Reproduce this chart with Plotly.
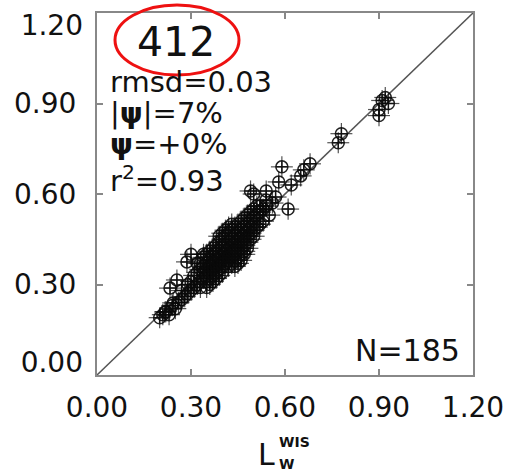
import plotly.graph_objects as go

# ---- data ----
x_vals = [
    0.20, 0.21, 0.22, 0.23, 0.24, 0.25, 0.26, 0.27, 0.27, 0.28, 0.29, 0.29, 0.30, 0.30, 0.31,
    0.217, 0.243, 0.255, 0.287, 0.30, 0.233,
    0.31, 0.32, 0.32, 0.33, 0.33, 0.33, 0.34, 0.34, 0.34, 0.34,
    0.35, 0.35, 0.35, 0.35, 0.35, 0.36, 0.36, 0.36, 0.36, 0.36,
    0.37, 0.37, 0.37, 0.37, 0.37, 0.37, 0.38, 0.38, 0.38, 0.38, 0.38, 0.38,
    0.39, 0.39, 0.39, 0.39, 0.39, 0.39, 0.40, 0.40, 0.40, 0.40, 0.40, 0.40, 0.40,
    0.41, 0.41, 0.41, 0.41, 0.41, 0.41, 0.42, 0.42, 0.42, 0.42, 0.42, 0.42,
    0.43, 0.43, 0.43, 0.43, 0.43, 0.43, 0.44, 0.44, 0.44, 0.44, 0.44, 0.44,
    0.45, 0.45, 0.45, 0.45, 0.45, 0.45, 0.46, 0.46, 0.46, 0.46, 0.46, 0.46,
    0.47, 0.47, 0.47, 0.47, 0.47, 0.47, 0.48, 0.48, 0.48, 0.48, 0.48, 0.48,
    0.49, 0.49, 0.49, 0.49, 0.49, 0.50, 0.50, 0.50, 0.50, 0.50,
    0.51, 0.51, 0.51, 0.52, 0.52, 0.53, 0.53,
    0.54, 0.55, 0.56, 0.57,
    0.36, 0.38, 0.44, 0.46, 0.39, 0.41, 0.43, 0.32, 0.34, 0.47, 0.45, 0.40, 0.35, 0.42,
    0.36, 0.38, 0.40, 0.42, 0.44, 0.45, 0.47, 0.37, 0.39, 0.43, 0.52, 0.54, 0.33,
    0.50, 0.49, 0.59, 0.58, 0.61, 0.65, 0.68, 0.66, 0.62, 0.78, 0.77,
    0.91, 0.93, 0.90, 0.90, 0.92, 0.54,
]
y_vals = [
    0.19, 0.20, 0.21, 0.20, 0.23, 0.22, 0.24, 0.25, 0.28, 0.26, 0.27, 0.30, 0.28, 0.31, 0.29,
    0.209, 0.239, 0.315, 0.375, 0.40, 0.288,
    0.33, 0.30, 0.34, 0.31, 0.35, 0.37, 0.32, 0.34, 0.36, 0.39,
    0.31, 0.33, 0.35, 0.37, 0.40, 0.32, 0.34, 0.36, 0.38, 0.41,
    0.33, 0.35, 0.37, 0.39, 0.42, 0.36, 0.34, 0.36, 0.38, 0.40, 0.43, 0.37,
    0.35, 0.37, 0.39, 0.41, 0.44, 0.38, 0.36, 0.38, 0.40, 0.42, 0.45, 0.39, 0.34,
    0.37, 0.39, 0.41, 0.43, 0.46, 0.40, 0.38, 0.40, 0.42, 0.44, 0.47, 0.36,
    0.39, 0.41, 0.43, 0.45, 0.48, 0.42, 0.40, 0.42, 0.44, 0.46, 0.49, 0.38,
    0.41, 0.43, 0.45, 0.47, 0.50, 0.44, 0.42, 0.44, 0.46, 0.48, 0.51, 0.40,
    0.43, 0.45, 0.47, 0.49, 0.52, 0.46, 0.44, 0.46, 0.48, 0.50, 0.53, 0.42,
    0.45, 0.47, 0.49, 0.51, 0.54, 0.46, 0.48, 0.50, 0.52, 0.55,
    0.49, 0.53, 0.56, 0.50, 0.54, 0.55, 0.51,
    0.56, 0.53, 0.57, 0.59,
    0.30, 0.32, 0.36, 0.38, 0.46, 0.48, 0.50, 0.37, 0.40, 0.40, 0.37, 0.47, 0.29, 0.49,
    0.39, 0.41, 0.43, 0.39, 0.41, 0.39, 0.41, 0.31, 0.33, 0.37, 0.56, 0.58, 0.29,
    0.60, 0.61, 0.69, 0.64, 0.55, 0.66, 0.70, 0.68, 0.63, 0.80, 0.77,
    0.91, 0.90, 0.88, 0.86, 0.92, 0.61,
]
err_size = 0.035

tick_vals = [0.0, 0.3, 0.6, 0.9, 1.2]
tick_text = ["0.00", "0.30", "0.60", "0.90", "1.20"]
diag = [0.0, 1.2]

stats_lines = ["rmsd=0.03", "|<b>ψ</b>|=7%", "<b>ψ</b>=+0%", "r<sup>2</sup>=0.93"]
site_label = "412"
n_label = "N=185"

# ---- figure ----
W, H = 514, 476
L, R, T, B = 97, 41, 13, 101
pw, ph = W - L - R, H - T - B

def px(x):
    return (x - L) / pw

def py(y):
    return (H - B - y) / ph

FONT = "DejaVu Sans"
TICKFONT = dict(family=FONT, size=28, color="#111111")

fig = go.Figure()
fig.add_trace(go.Scatter(x=diag, y=diag, mode="lines",
                         line=dict(color="#555555", width=1.5),
                         hoverinfo="skip", showlegend=False))
fig.add_trace(go.Scatter(
    x=x_vals, y=y_vals, mode="markers",
    marker=dict(symbol="circle-cross-open", size=12,
                color="rgba(10,10,10,0.9)", line=dict(width=1.5)),
    error_x=dict(type="constant", value=err_size, thickness=1.2, width=0,
                 color="rgba(10,10,10,0.7)"),
    error_y=dict(type="constant", value=err_size, thickness=1.2, width=0,
                 color="rgba(10,10,10,0.7)"),
    showlegend=False))
# empty traces so the extra label axes (end labels nudged inward, as in the original) are drawn
fig.add_trace(go.Scatter(x=[], y=[], yaxis="y2", showlegend=False, hoverinfo="skip"))
fig.add_trace(go.Scatter(x=[], y=[], yaxis="y3", showlegend=False, hoverinfo="skip"))

axis_common = dict(range=[0, 1.2],
                   ticks="inside", ticklen=6, tickcolor="#888888", tickwidth=1.5,
                   showline=True, linecolor="#888888", linewidth=2, mirror="ticks",
                   showgrid=False, zeroline=False, automargin=False,
                   ticklabeloverflow="allow", tickfont=TICKFONT)
fig.update_xaxes(**axis_common, tickvals=tick_vals, ticktext=tick_text,
                 ticklabelstandoff=6)
fig.update_layout(
    yaxis=dict(**axis_common, tickvals=tick_vals[1:4], ticktext=tick_text[1:4],
               ticklabelstandoff=13),
    yaxis2=dict(range=[0, 1.2], overlaying="y", side="left", showline=False,
                showgrid=False, zeroline=False, ticks="", automargin=False,
                tickvals=[tick_vals[4]], ticktext=[tick_text[4]],
                ticklabelshift=12, ticklabelstandoff=13,
                ticklabeloverflow="allow", tickfont=TICKFONT),
    yaxis3=dict(range=[0, 1.2], overlaying="y", side="left", showline=False,
                showgrid=False, zeroline=False, ticks="", automargin=False,
                tickvals=[tick_vals[0]], ticktext=[tick_text[0]],
                ticklabelshift=-13, ticklabelstandoff=13,
                ticklabeloverflow="allow", tickfont=TICKFONT),
)

ann = []
ann.append(dict(text=site_label, x=px(176), y=py(42), xref="paper", yref="paper",
                showarrow=False, font=dict(family=FONT, size=41, color="#111111"),
                xanchor="center", yanchor="middle"))
centers = [82, 113, 144, 179]
for s, c in zip(stats_lines, centers):
    ann.append(dict(text=s, x=px(108), y=py(c), xref="paper", yref="paper",
                    showarrow=False, font=dict(family=FONT, size=29, color="#111111"),
                    xanchor="left", yanchor="middle"))
ann.append(dict(text=n_label, x=px(462), y=py(350), xref="paper", yref="paper",
                showarrow=False, font=dict(family=FONT, size=30, color="#111111"),
                xanchor="right", yanchor="middle"))
# axis title L_w^WIS
ann.append(dict(text="L", x=px(276), y=py(454), xref="paper", yref="paper",
                showarrow=False, font=dict(family=FONT, size=30, color="#111111"),
                xanchor="right", yanchor="middle", borderpad=0))
ann.append(dict(text="<b>WIS</b>", x=px(278), y=py(442), xref="paper", yref="paper",
                showarrow=False, font=dict(family=FONT, size=14, color="#111111"),
                xanchor="left", yanchor="middle", borderpad=0))
ann.append(dict(text="<b>W</b>", x=px(278), y=py(464), xref="paper", yref="paper",
                showarrow=False, font=dict(family=FONT, size=14, color="#111111"),
                xanchor="left", yanchor="middle", borderpad=0))

fig.update_layout(
    width=W, height=H, margin=dict(l=L, r=R, t=T, b=B),
    paper_bgcolor="white", plot_bgcolor="white",
    annotations=ann,
    shapes=[dict(type="circle", xref="paper", yref="paper",
                 x0=px(115), x1=px(239), y0=py(75), y1=py(5),
                 line=dict(color="#ee1111", width=3))],
)

fig.write_html("out.html", config={"displayModeBar": False})

# remove the browser's default 8px body margin so the figure sits at the page corner
with open("out.html", "r", encoding="utf-8") as f:
    html = f.read()
html = html.replace("<head>", "<head><style>html,body{margin:0;padding:0;overflow:hidden;}</style>", 1)
with open("out.html", "w", encoding="utf-8") as f:
    f.write(html)
